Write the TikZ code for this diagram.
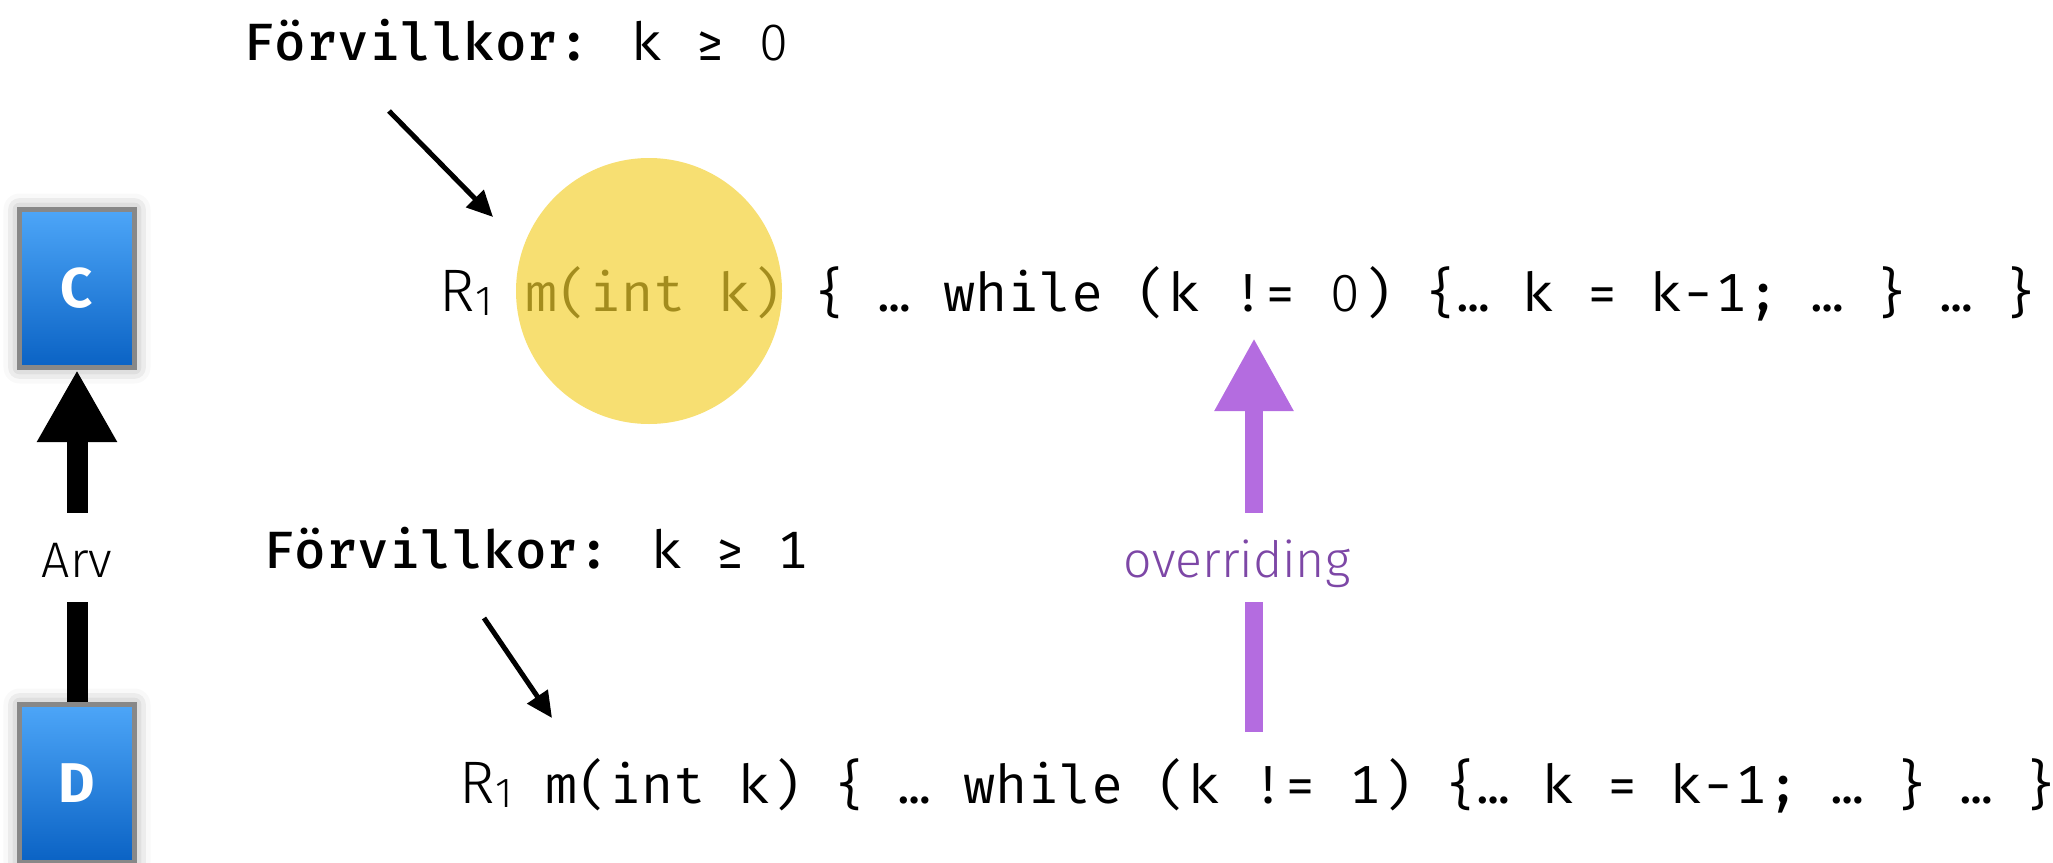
\documentclass[tikz,border=0pt]{standalone}
\usepackage{fontspec}
\setmainfont{Fira Sans}
\IfFontExistsTF{Fira Mono}{\newfontfamily\codefont{Fira Mono}}{\newfontfamily\codefont{Liberation Mono}}
\newfontfamily\lightsans{Fira Sans Light}
\newcommand\plainzero{\makebox[0.6em]{\lightsans 0}}
\usetikzlibrary{arrows.meta,shadows.blur}
\definecolor{circyellow}{RGB}{247,223,114}
\definecolor{olivetext}{RGB}{163,140,30}
\definecolor{ovpurple}{RGB}{180,108,224}
\definecolor{ovtext}{RGB}{125,71,166}
\definecolor{boxtop}{RGB}{77,166,248}
\definecolor{boxbot}{RGB}{10,98,196}
\definecolor{boxborder}{RGB}{136,136,136}
\begin{document}
\begin{tikzpicture}[x=1pt,y=-1pt,
  classbox/.style={draw=boxborder, line width=5pt, top color=boxtop, bottom color=boxbot,
    minimum width=115pt, minimum height=158pt, inner sep=0pt, text=white,
    font=\fontsize{56}{56}\selectfont\bfseries,
    blur shadow={shadow xshift=0pt, shadow yshift=0pt, shadow blur radius=16pt, shadow opacity=40}},
  labeltext/.style={anchor=base west, inner sep=0pt, font=\codefont\fontsize{52.5}{60}\selectfont},
  codetext/.style={anchor=base west, inner sep=0pt, font=\codefont\fontsize{53.6}{60}\selectfont},
  rsub/.style={anchor=base west, inner sep=0pt, font=\lightsans\fontsize{60}{60}\selectfont},
  gaplabel/.style={inner sep=0pt, minimum height=89pt, text height=39pt, text depth=0pt,
    font=\lightsans\fontsize{50}{56}\selectfont},
  inherit/.style={line width=21pt},
  override/.style={ovpurple, line width=18pt},
  pointer/.style={line width=5pt, -{Triangle[length=26pt,width=24pt]}}
]
\useasboundingbox (0,0) rectangle (2053,862);

% classes
\node[classbox] (C) at (77,288.5) {C};
\node[classbox] (D) at (77,783.5) {D};
\node[gaplabel] (arv) at (77,557.5) {Arv};
\draw[inherit] (D.north) -- (arv.south);
\draw[inherit, -{Triangle[length=72pt,width=75pt]}] (arv.north) -- (C.south);

% highlight circle
\node[circle, fill=circyellow, minimum size=266pt, inner sep=0pt] (hl) at (649,291) {};

% preconditions
\node[labeltext] (pre0) at (243,60) {\textbf{Förvillkor:} k ≥ \plainzero};
\node[labeltext] (pre1) at (263,568) {\textbf{Förvillkor:} k ≥ 1};

% code lines
\node[rsub] (r1a) at (439,311) {R\kern1pt\raisebox{-4pt}{\fontsize{42}{42}\selectfont 1}};
\node[codetext] (code1) at (525,311) {{\color{olivetext}m(int k)} \{ … while (k != \plainzero) \{… k = k-1; … \} … \}};
\node[rsub] (r1b) at (459,803) {R\kern1pt\raisebox{-4pt}{\fontsize{42}{42}\selectfont 1}};
\node[codetext] (code2) at (545,803) {m(int k) \{ … while (k != 1) \{… k = k-1; … \} … \}};

% pointer arrows
\coordinate (a1s) at (389,111);
\coordinate (a1e) at (493,217);
\draw[pointer] (a1s) -- (a1e);
\coordinate (a2s) at (484,618);
\coordinate (a2e) at (552,718);
\draw[pointer] (a2s) -- (a2e);

% overriding arrow
\node[gaplabel, text=ovtext] (ov) at (1237,557.5) {overriding};
\coordinate (ovbot) at (1254,732);
\coordinate (ovtop) at (1254,338);
\draw[override] (ovbot) -- (ovbot |- ov.south);
\draw[override, -{Triangle[length=73pt,width=74pt]}] (ovbot |- ov.north) -- (ovtop);
\end{tikzpicture}
\end{document}
